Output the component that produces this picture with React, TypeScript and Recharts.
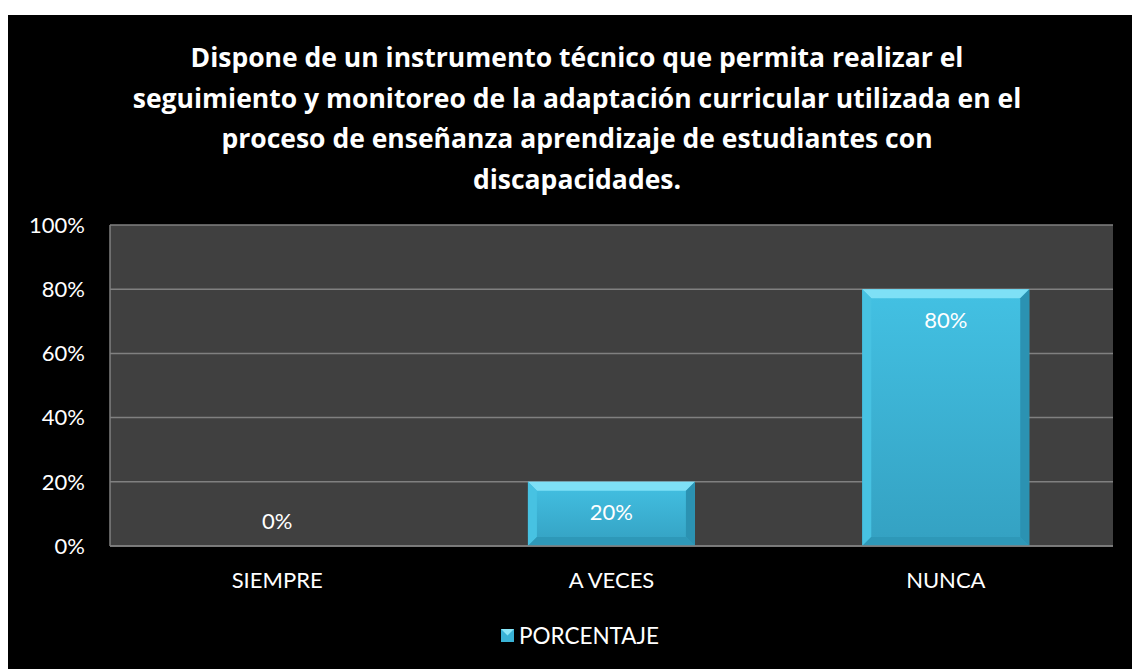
import { BarChart, Bar, XAxis, YAxis, CartesianGrid, Legend, LabelList } from 'recharts';

const categories = ['SIEMPRE', 'A VECES', 'NUNCA'];
const porcentaje = [0, 20, 80];
const yTicks = [0, 20, 40, 60, 80, 100];
const titleLines = [
  'Dispone de un instrumento técnico que permita realizar el',
  'seguimiento y monitoreo de la adaptación curricular utilizada en el',
  'proceso de enseñanza aprendizaje de estudiantes con',
  'discapacidades.',
];

const data = categories.map((c, i) => ({ name: c, value: porcentaje[i] }));

const FONT = 'Lato, "Open Sans", sans-serif';
const TITLE_FONT = '"Open Sans", Lato, sans-serif';

const BevelBar = (props: any) => {
  const { x, y, width, height } = props;
  if (!height || height <= 0) return null;
  const b = Math.min(9, height / 2);
  return (
    <g>
      <rect x={x} y={y} width={width} height={height} fill="url(#barFill)" />
      {/* top bevel */}
      <polygon points={`${x},${y} ${x + width},${y} ${x + width - b},${y + b} ${x + b},${y + b}`} fill="#7ee0f6" />
      {/* left bevel */}
      <polygon points={`${x},${y} ${x + b},${y + b} ${x + b},${y + height - b} ${x},${y + height}`} fill="#47c2e2" />
      {/* right bevel */}
      <polygon points={`${x + width},${y} ${x + width},${y + height} ${x + width - b},${y + height - b} ${x + width - b},${y + b}`} fill="#2b92b2" />
      {/* bottom bevel */}
      <polygon points={`${x},${y + height} ${x + b},${y + height - b} ${x + width - b},${y + height - b} ${x + width},${y + height}`} fill="#2e98b8" />
    </g>
  );
};

const renderLabel = (props: any) => {
  const { x, y, width, height, value } = props;
  const cy = height > 0 ? y + 30 : y - 26;
  return (
    <text x={x + width / 2} y={cy} fill="#ffffff" fontSize={22} fontFamily={FONT} textAnchor="middle" dominantBaseline="central">
      {value}%
    </text>
  );
};

const renderLegend = () => (
  <div style={{ display: 'flex', justifyContent: 'center', alignItems: 'center', fontFamily: FONT, fontSize: 22.5, color: '#ffffff', paddingLeft: 39 }}>
    <svg width={13} height={13} style={{ marginRight: 5 }}>
      <rect x={0} y={0} width={13} height={13} fill="#3ab3d6" />
      <polygon points="0,0 13,0 6.5,6.5" fill="#8ae6f8" />
    </svg>
    <span>PORCENTAJE</span>
  </div>
);

export default function App() {
  return (
    <div style={{ position: 'absolute', left: 8, top: 15, width: 1124, height: 654, background: '#000000' }}>
      <style>{`body{margin:0;overflow:hidden}`}</style>
      <div
        style={{
          position: 'absolute',
          left: 14,
          top: 22,
          width: 1110,
          textAlign: 'center',
          color: '#ffffff',
          fontFamily: TITLE_FONT,
          fontWeight: 700,
          fontSize: 26.5,
          lineHeight: '40.5px',
        }}
      >
        {titleLines.map((l, i) => (
          <div key={i}>{l}</div>
        ))}
      </div>
      <BarChart width={1124} height={654} data={data} margin={{ top: 210, right: 19, left: 0, bottom: 7 }} barCategoryGap="25%">
        <defs>
          <linearGradient id="barFill" x1="0" y1="0" x2="0" y2="1">
            <stop offset="0%" stopColor="#43c1e3" />
            <stop offset="100%" stopColor="#34a1c2" />
          </linearGradient>
        </defs>
        <CartesianGrid vertical={false} fill="#404040" stroke="#808080" strokeWidth={1.5} />
        <XAxis
          dataKey="name"
          height={76}
          tickSize={0}
          tickMargin={26}
          axisLine={{ stroke: '#808080', strokeWidth: 1.5 }}
          tick={{ fill: '#ffffff', fontSize: 22, fontFamily: FONT }}
        />
        <YAxis
          width={102}
          domain={[0, 100]}
          ticks={yTicks}
          tickFormatter={(v: number) => `${v}%`}
          tickSize={0}
          tickMargin={25}
          axisLine={{ stroke: '#808080', strokeWidth: 1.5 }}
          tick={{ fill: '#ffffff', fontSize: 22, fontFamily: FONT }}
        />
        <Legend verticalAlign="bottom" height={40} content={renderLegend} />
        <Bar dataKey="value" name="PORCENTAJE" shape={BevelBar} isAnimationActive={false}>
          <LabelList dataKey="value" content={renderLabel} />
        </Bar>
      </BarChart>
    </div>
  );
}
